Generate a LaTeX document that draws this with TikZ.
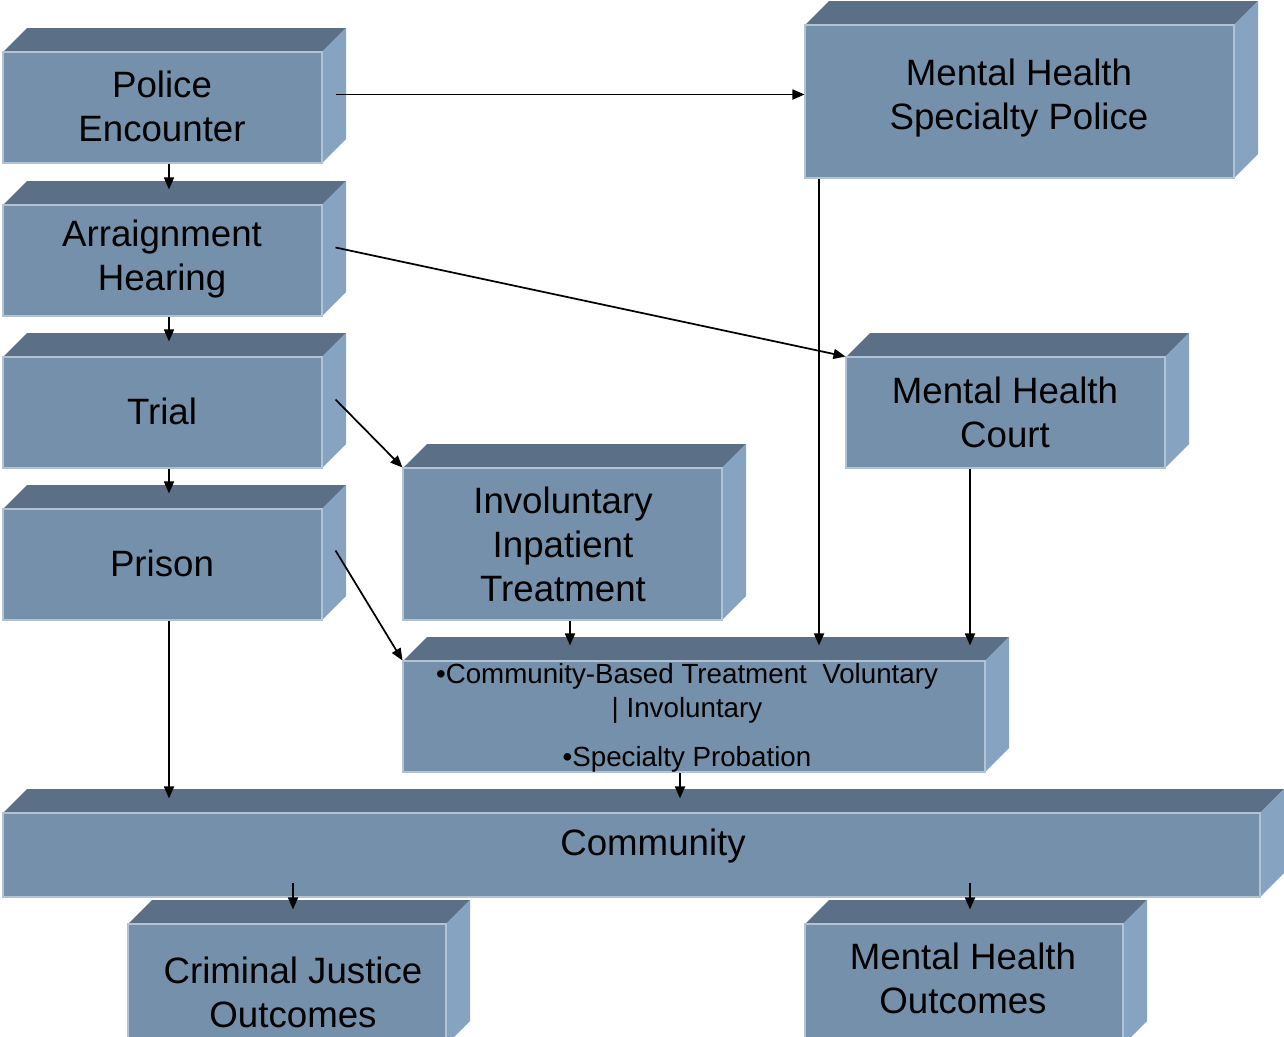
\documentclass[tikz,border=0pt]{standalone}
\usepackage{fontspec}
\setmainfont{Liberation Sans}
\usetikzlibrary{arrows.meta,fit,calc}
\definecolor{topc}{HTML}{5B7087}
\definecolor{frontc}{HTML}{7490AA}
\definecolor{sidec}{HTML}{87A3C2}
\definecolor{edgec}{HTML}{B2C3D6}
\newcommand\blockbox[5]{%
  \fill[topc] (#2,#3) -- (#2+24,#3-24) -- (#4+24,#3-24) -- (#4,#3) -- cycle;
  \fill[sidec] (#4,#3) -- (#4+24,#3-24) -- (#4+24,#5-24) -- (#4,#5) -- cycle;
  \node[frontbox, fit={(#2,#3) (#4,#5)}] (#1) {};
}
\begin{document}
\begin{tikzpicture}[x=0.75pt,y=-0.75pt,
  frontbox/.style={fill=frontc, draw=edgec, line width=0.8pt, inner sep=0pt},
  lbl/.style={align=center, font=\fontsize{27.5}{33}\selectfont, inner sep=0pt},
  small/.style={align=center, font=\fontsize{20.8}{25.5}\selectfont, inner sep=0pt},
  arr/.style={-{Triangle[length=9pt,width=7.5pt]}, line width=1.3pt, black}]
\useasboundingbox (0,0) rectangle (1284,1036);
\fill[white] (0,0) rectangle (1284,1036);
% boxes
\blockbox{pe}{3}{52}{322}{163}
\blockbox{ah}{3}{205}{322}{316}
\blockbox{tr}{3}{357}{322}{468}
\blockbox{pr}{3}{509}{322}{620}
\blockbox{msp}{805}{25}{1234}{178}
\blockbox{mhc}{846}{357}{1165}{468}
\blockbox{iit}{403}{468}{722}{620}
\blockbox{cbt}{403}{661}{985}{772}
\blockbox{com}{3}{813}{1260}{897}
\blockbox{cjo}{128}{924}{446}{1045}
\blockbox{mho}{805}{924}{1123}{1045}
% labels
\node[lbl] (pe-t) at (162,106) {Police\\Encounter};
\node[lbl] (ah-t) at (162,259) {Arraignment\\Hearing};
\node[lbl] (tr-t) at (162,411) {Trial};
\node[lbl] (pr-t) at (162,563) {Prison};
\node[lbl] (msp-t) at (1019,98) {Mental Health\\Specialty Police};
\node[lbl] (mhc-t) at (1005,412) {Mental Health\\Court};
\node[lbl] (iit-t) at (563,544) {Involuntary\\Inpatient\\Treatment};
\node[lbl] (com-t) at (653,846) {Community};
\node[lbl] (cjo-t) at (293,992) {Criminal Justice\\Outcomes};
\node[lbl] (mho-t) at (963,978) {Mental Health\\Outcomes};
\node[small, anchor=north] (cbt-t) at (687,663) {•Community-Based Treatment\ \ Voluntary\\| Involuntary\\[11pt]•Specialty Probation};
% connectors
\draw[arr] (pe.south -| 169,0) -- ($(ah.north -| 169,0)+(0,-15)$);
\draw[arr] (ah.south -| 169,0) -- ($(tr.north -| 169,0)+(0,-15)$);
\draw[arr] (tr.south -| 169,0) -- ($(pr.north -| 169,0)+(0,-15)$);
\draw[arr] (pr.south -| 169,0) -- ($(com.north -| 169,0)+(0,-14)$);
\coordinate (pe-o) at ($(pe.east)+(13,-13)$);
\draw[arr] (pe-o) -- (pe-o -| msp.west);
\draw[arr] ($(ah.east)+(13,-13)$) -- (mhc.north west);
\draw[arr] ($(tr.east)+(13,-13)$) -- (iit.north west);
\draw[arr] ($(pr.east)+(13,-14)$) -- (cbt.north west);
\draw[arr] (msp.south -| 819,0) -- ($(cbt.north -| 819,0)+(0,-15)$);
\draw[arr] (mhc.south -| 970,0) -- ($(cbt.north -| 970,0)+(0,-15)$);
\draw[arr] (iit.south -| 570,0) -- ($(cbt.north -| 570,0)+(0,-15)$);
\draw[arr] (cbt.south -| 680,0) -- ($(com.north -| 680,0)+(0,-14)$);
\draw[arr] ($(com.south -| 293,0)+(0,-15)$) -- ($(cjo.north -| 293,0)+(0,-14)$);
\draw[arr] ($(com.south -| 970,0)+(0,-15)$) -- ($(mho.north -| 970,0)+(0,-14)$);
\end{tikzpicture}
\end{document}
